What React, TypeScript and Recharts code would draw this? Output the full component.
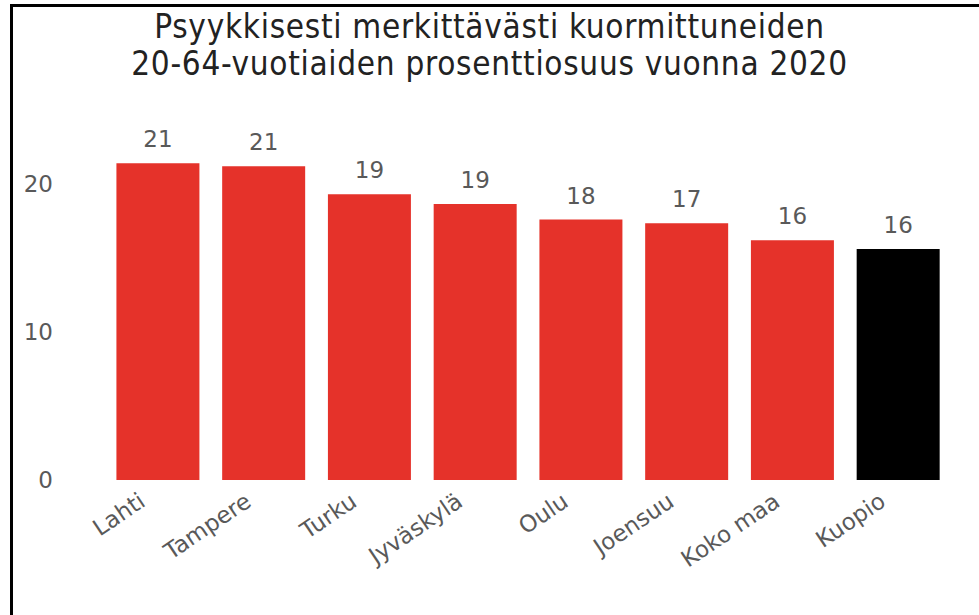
import { BarChart, Bar, XAxis, YAxis, Cell, LabelList } from "recharts";

const cities = ["Lahti", "Tampere", "Turku", "Jyväskylä", "Oulu", "Joensuu", "Koko maa", "Kuopio"];
const shares = [21.4, 21.2, 19.3, 18.65, 17.6, 17.35, 16.2, 15.6];
const yTicks = [0, 10, 20];

const RED = "#E5322A";
const GREY = "#595959";
const FONT = "'DejaVu Sans', Verdana, sans-serif";

const data = cities.map((city, i) => ({ city, value: shares[i] }));

const CityTick = (props: any) => {
  const { x, y, payload } = props;
  const ax = x - 11;
  const ay = y + 19;
  return (
    <text
      x={ax}
      y={ay}
      transform={`rotate(-34, ${ax}, ${ay})`}
      textAnchor="end"
      fill={GREY}
      fontSize={23}
      fontFamily={FONT}
    >
      {payload.value}
    </text>
  );
};

const App = () => {
  return (
    <div style={{ position: "fixed", left: 0, top: 0, width: 979, height: 615, background: "#fff" }}>
      <div
        style={{
          position: "absolute",
          left: 10,
          top: 4,
          width: 969,
          height: 611,
          borderTop: "3px solid #000",
          borderLeft: "3px solid #000",
          boxSizing: "border-box",
        }}
      />
      <div
        style={{
          position: "absolute",
          left: 0,
          top: 8,
          width: 979,
          textAlign: "center",
          fontFamily: "'DejaVu Sans Condensed', 'Liberation Sans Narrow', 'Liberation Sans', sans-serif",
          fontSize: 33,
          letterSpacing: 0.7,
          lineHeight: "37px",
          color: "#222",
        }}
      >
        Psyykkisesti merkittävästi kuormittuneiden
        <br />
        20-64-vuotiaiden prosenttiosuus vuonna 2020
      </div>
      <div style={{ position: "absolute", left: 0, top: 0 }}>
        <BarChart
          width={979}
          height={615}
          data={data}
          margin={{ top: 110, right: 28, bottom: 35, left: 0 }}
          barCategoryGap="10.8%"
        >
          <XAxis
            dataKey="city"
            axisLine={false}
            tickLine={false}
            tickMargin={0}
            interval={0}
            height={100}
            tick={<CityTick />}
          />
          <YAxis
            type="number"
            domain={[0, 25]}
            ticks={yTicks}
            width={105}
            axisLine={false}
            tickLine={false}
            tickMargin={46}
            tick={{ fill: GREY, fontSize: 23, fontFamily: FONT }}
          />
          <Bar dataKey="value" isAnimationActive={false}>
            {data.map((d, i) => (
              <Cell key={d.city} fill={i === data.length - 1 ? "#000000" : RED} />
            ))}
            <LabelList
              dataKey="value"
              position="top"
              offset={16}
              formatter={(v: any) => Math.round(Number(v))}
              fill={GREY}
              fontSize={23}
              fontFamily={FONT}
            />
          </Bar>
        </BarChart>
      </div>
    </div>
  );
};

export default App;
